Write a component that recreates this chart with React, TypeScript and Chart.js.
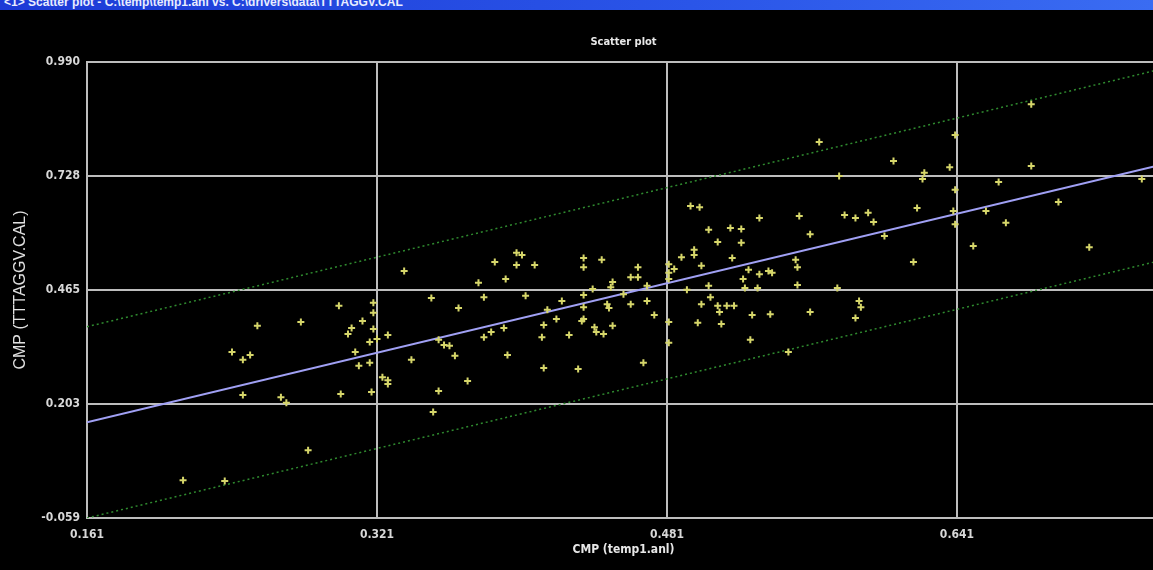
import React, { useEffect, useRef } from 'react';
import { Chart, registerables } from 'chart.js';

Chart.register(...registerables);

const windowTitle = '<1> Scatter plot - C:\\temp\\temp1.anl vs. C:\\drivers\\data\\TTTAGGV.CAL';
const chartTitle = 'Scatter plot';
const xAxisTitle = 'CMP (temp1.anl)';
const yAxisTitle = 'CMP (TTTAGGV.CAL)';

const xTickValues = [0.161, 0.321, 0.481, 0.641, 0.801];
const xTickLabels = ['0.161', '0.321', '0.481', '0.641', '0.801'];
const yTickValues = [-0.059, 0.20325, 0.4655, 0.72775, 0.99];
const yTickLabels = ['-0.059', '0.203', '0.465', '0.728', '0.990'];

const pointX = [
  0.300, 0.319, 0.319, 0.255, 0.279, 0.313, 0.307, 0.305, 0.319, 0.317,
  0.241, 0.247, 0.251, 0.309, 0.311, 0.317, 0.247, 0.268, 0.271, 0.301,
  0.318, 0.283, 0.214, 0.237,
  0.398, 0.401, 0.386, 0.398, 0.408, 0.435, 0.435, 0.336, 0.392, 0.377,
  0.380, 0.403, 0.351, 0.423, 0.435, 0.440, 0.366, 0.415, 0.327, 0.321,
  0.420, 0.413, 0.435, 0.434, 0.441, 0.442, 0.391, 0.384, 0.380, 0.412,
  0.427, 0.355, 0.358, 0.361, 0.340, 0.364, 0.393, 0.324, 0.327, 0.327,
  0.413, 0.432, 0.371, 0.355, 0.352,
  0.494, 0.499, 0.532, 0.554, 0.579, 0.585, 0.592, 0.595, 0.504, 0.516,
  0.522, 0.560, 0.509, 0.522, 0.496, 0.496, 0.489, 0.517, 0.445, 0.465,
  0.482, 0.500, 0.552, 0.553, 0.461, 0.465, 0.482, 0.485, 0.482, 0.526,
  0.532, 0.537, 0.539, 0.523, 0.451, 0.450, 0.470, 0.492, 0.504, 0.524,
  0.531, 0.553, 0.575, 0.457, 0.435, 0.448, 0.449, 0.461, 0.470, 0.500,
  0.505, 0.509, 0.510, 0.514, 0.518, 0.560, 0.587, 0.588, 0.446, 0.451,
  0.474, 0.482, 0.498, 0.511, 0.528, 0.538, 0.585, 0.482, 0.527, 0.548,
  0.468,
  0.682, 0.640, 0.606, 0.637, 0.682, 0.623, 0.622, 0.664, 0.743, 0.640,
  0.619, 0.657, 0.639, 0.697, 0.668, 0.640, 0.601, 0.650, 0.714, 0.617,
  0.565, 0.576,
];

const pointY = [
  0.429, 0.436, 0.413, 0.383, 0.392, 0.394, 0.378, 0.364, 0.376, 0.346,
  0.323, 0.305, 0.316, 0.323, 0.291, 0.298, 0.224, 0.219, 0.206, 0.226,
  0.231, 0.097, 0.028, 0.026,
  0.551, 0.546, 0.530, 0.523, 0.523, 0.539, 0.518, 0.509, 0.491, 0.482,
  0.449, 0.452, 0.447, 0.440, 0.454, 0.468, 0.424, 0.420, 0.362, 0.353,
  0.399, 0.385, 0.399, 0.394, 0.380, 0.369, 0.378, 0.369, 0.357, 0.357,
  0.362, 0.351, 0.339, 0.337, 0.305, 0.314, 0.316, 0.265, 0.258, 0.249,
  0.286, 0.284, 0.256, 0.233, 0.185,
  0.659, 0.656, 0.631, 0.636, 0.638, 0.631, 0.643, 0.622, 0.604, 0.608,
  0.606, 0.594, 0.576, 0.574, 0.558, 0.546, 0.541, 0.539, 0.535, 0.518,
  0.525, 0.521, 0.535, 0.518, 0.495, 0.495, 0.505, 0.514, 0.491, 0.512,
  0.502, 0.509, 0.505, 0.491, 0.484, 0.472, 0.475, 0.466, 0.475, 0.470,
  0.470, 0.477, 0.470, 0.456, 0.426, 0.433, 0.424, 0.433, 0.440, 0.433,
  0.449, 0.429, 0.415, 0.429, 0.429, 0.415, 0.440, 0.426, 0.364, 0.383,
  0.408, 0.392, 0.390, 0.387, 0.408, 0.410, 0.401, 0.344, 0.351, 0.323,
  0.298,
  0.893, 0.822, 0.762, 0.748, 0.751, 0.735, 0.721, 0.714, 0.721, 0.696,
  0.654, 0.647, 0.647, 0.668, 0.620, 0.617, 0.590, 0.567, 0.564, 0.530,
  0.806, 0.728,
];

// reference lines: identity and +/- band
const lineX = [0.161, 0.801];
const identityY = [0.161, 0.801];
const upperY = [0.381, 1.021];
const lowerY = [-0.059, 0.581];

const CANVAS_W = 1274;
const CANVAS_H = 570;

const narrowFamily = "'Liberation Sans Narrow', 'DejaVu Sans Condensed', 'Liberation Sans', sans-serif";
const tickFont = { family: narrowFamily, size: 12, weight: 'bold' as const };
const gridColor = '#bdbdbd';

export default function App() {
  const canvasRef = useRef<HTMLCanvasElement | null>(null);

  useEffect(() => {
    const canvas = canvasRef.current;
    if (!canvas) return;
    const toPts = (xs: number[], ys: number[]) => xs.map((x, i) => ({ x, y: ys[i] }));
    const chart = new Chart(canvas, {
      type: 'scatter',
      data: {
        datasets: [
          {
            label: 'samples',
            data: toPts(pointX, pointY),
            pointStyle: 'cross',
            pointRadius: 3.5,
            pointBorderWidth: 2,
            borderColor: '#d6d66a',
            backgroundColor: '#d6d66a',
            order: 0,
          },
          {
            label: 'identity',
            data: toPts(lineX, identityY),
            showLine: true,
            pointRadius: 0,
            borderColor: '#a0a0f4',
            borderWidth: 2,
            order: 1,
          },
          {
            label: 'upper',
            data: toPts(lineX, upperY),
            showLine: true,
            pointRadius: 0,
            borderColor: '#2f8a2f',
            borderWidth: 1.5,
            borderDash: [2, 3],
            order: 2,
          },
          {
            label: 'lower',
            data: toPts(lineX, lowerY),
            showLine: true,
            pointRadius: 0,
            borderColor: '#2f8a2f',
            borderWidth: 1.5,
            borderDash: [2, 3],
            order: 2,
          },
        ],
      },
      options: {
        responsive: false,
        animation: false,
        events: [],
        layout: { padding: { left: 0, right: CANVAS_W - 1247, top: 0, bottom: 0 } },
        plugins: {
          legend: { display: false },
          tooltip: { enabled: false },
          title: {
            display: true,
            text: chartTitle,
            color: '#e8e8e8',
            font: { family: narrowFamily, size: 11, weight: 'bold', lineHeight: 1.2 },
            padding: { top: 36, bottom: 12.8 },
          },
          subtitle: {
            display: true,
            position: 'bottom',
            text: xAxisTitle,
            color: '#e8e8e8',
            font: { family: narrowFamily, size: 12, weight: 'bold', lineHeight: 1.2 },
            padding: { top: 0, bottom: 13 },
          },
        },
        scales: {
          x: {
            type: 'linear',
            min: xTickValues[0],
            max: xTickValues[xTickValues.length - 1],
            afterBuildTicks: (s: any) => { s.ticks = xTickValues.map((v) => ({ value: v })); },
            afterFit: (s: any) => { s.height = 24.6; },
            ticks: {
              color: '#d8d8d8',
              font: tickFont,
              padding: 10,
              autoSkip: false,
              maxRotation: 0,
              callback: (_v: any, i: number) => xTickLabels[i],
            },
            grid: { color: gridColor, lineWidth: 2, drawTicks: false },
            border: { display: true, color: gridColor, width: 2 },
          },
          y: {
            type: 'linear',
            min: yTickValues[0],
            max: yTickValues[yTickValues.length - 1],
            afterBuildTicks: (s: any) => { s.ticks = yTickValues.map((v) => ({ value: v })); },
            afterFit: (s: any) => { s.width = 87; },
            ticks: {
              color: '#d8d8d8',
              font: tickFont,
              padding: 7,
              autoSkip: false,
              callback: (_v: any, i: number) => yTickLabels[i],
            },
            grid: { color: gridColor, lineWidth: 2, drawTicks: false },
            border: { display: true, color: gridColor, width: 2 },
            title: {
              display: true,
              text: yAxisTitle,
              color: '#e0e0e0',
              font: { family: "'Liberation Sans', Arial, sans-serif", size: 16, weight: 'normal' },
              padding: { top: 11, bottom: 0 },
            },
          },
        },
      },
    });
    return () => chart.destroy();
  }, []);

  return (
    <div style={{ position: 'fixed', left: 0, top: 0, width: 1153, height: 570, overflow: 'hidden', background: '#000' }}>
      <canvas ref={canvasRef} width={CANVAS_W} height={CANVAS_H} style={{ position: 'absolute', left: 0, top: 0, width: CANVAS_W, height: CANVAS_H }} />
      <div
        style={{
          position: 'absolute', left: 0, top: 0, width: '100%', height: 10, overflow: 'hidden',
          background: 'linear-gradient(to right, #1c3ad6, #2a55e8 60%, #3a6cf2)',
        }}
      >
        <div
          style={{
            position: 'absolute', left: 4, top: -5, whiteSpace: 'nowrap', color: '#e8ecff',
            font: "bold 12px 'Liberation Sans', Arial, sans-serif",
          }}
        >
          {windowTitle}
        </div>
      </div>
    </div>
  );
}
